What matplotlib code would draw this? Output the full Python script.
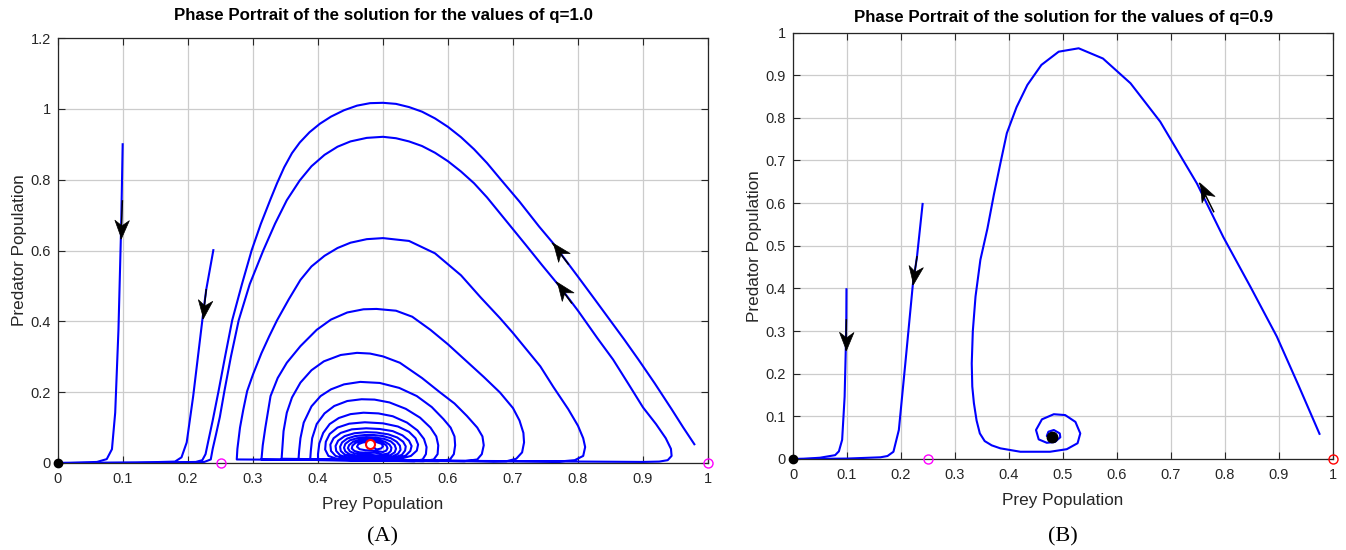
import numpy as np
import matplotlib
matplotlib.use('Agg')
import matplotlib.pyplot as plt
from matplotlib.markers import MarkerStyle
from matplotlib.path import Path
from matplotlib.transforms import Affine2D

plt.rcParams['font.family'] = ['Liberation Sans', 'DejaVu Sans']

# ---- axis ticks / text ----
titles = ['Phase Portrait of the solution for the values of q=1.0',
          'Phase Portrait of the solution for the values of q=0.9']
captions = ['(A)', '(B)']
x_ticks = [0, 0.1, 0.2, 0.3, 0.4, 0.5, 0.6, 0.7, 0.8, 0.9, 1.0]
x_tick_labels = ['0', '0.1', '0.2', '0.3', '0.4', '0.5', '0.6', '0.7', '0.8', '0.9', '1']
left_y_ticks = [0, 0.2, 0.4, 0.6, 0.8, 1.0, 1.2]
left_y_tick_labels = ['0', '0.2', '0.4', '0.6', '0.8', '1', '1.2']
right_y_ticks = [0, 0.1, 0.2, 0.3, 0.4, 0.5, 0.6, 0.7, 0.8, 0.9, 1.0]
right_y_tick_labels = ['0', '0.1', '0.2', '0.3', '0.4', '0.5', '0.6', '0.7', '0.8', '0.9', '1']

# ---- panel A (q=1.0), trajectories ----
a_traj1_x = [0.0995, 0.098, 0.097, 0.093, 0.088, 0.083, 0.075, 0.06, 0.02, 0.0]
a_traj1_y = [0.90, 0.75, 0.657, 0.376, 0.142, 0.039, 0.011, 0.003, 0.0005, 0.0]
a_traj2_x = [0.239, 0.228, 0.224, 0.208, 0.198, 0.19, 0.18, 0.12, 0.0]
a_traj2_y = [0.601, 0.489, 0.433, 0.189, 0.058, 0.016, 0.004, 0.001, 0.0]
# outermost arch, starting low on the right
a_traj3_x = [0.979, 0.962, 0.944, 0.918, 0.893, 0.871, 0.849, 0.825, 0.80, 0.78, 0.762,
             0.74, 0.71, 0.68, 0.66, 0.64, 0.62, 0.60, 0.58, 0.56, 0.54, 0.52, 0.50,
             0.48, 0.46, 0.44, 0.42, 0.403, 0.387, 0.372, 0.36, 0.348, 0.337, 0.327,
             0.312, 0.298, 0.283, 0.268, 0.257, 0.247, 0.238, 0.231, 0.227, 0.222,
             0.212, 0.15, 0.05, 0.0]
a_traj3_y = [0.053, 0.10, 0.152, 0.225, 0.292, 0.349, 0.404, 0.464, 0.526, 0.575, 0.62,
             0.668, 0.738, 0.803, 0.847, 0.886, 0.92, 0.949, 0.973, 0.992, 1.005, 1.014, 1.017,
             1.016, 1.009, 0.996, 0.978, 0.958, 0.934, 0.905, 0.875, 0.835, 0.79, 0.745,
             0.675, 0.601, 0.505, 0.403, 0.30, 0.203, 0.12, 0.06, 0.025, 0.008,
             0.003, 0.001, 0.0, 0.0]

# spiral leaving the interior equilibrium, innermost loops first
a_spiral_inner_x = [0.482,
                    0.49, 0.497, 0.5, 0.498, 0.49, 0.479, 0.469, 0.462, 0.46, 0.464, 0.473, 0.485,
                    0.50, 0.505, 0.507, 0.505, 0.499, 0.489, 0.478, 0.467, 0.458, 0.453, 0.452,
                    0.456, 0.464, 0.475, 0.488,
                    0.50, 0.508, 0.512, 0.513, 0.51, 0.503, 0.492, 0.478, 0.465, 0.454, 0.448,
                    0.446, 0.449, 0.456, 0.467, 0.482,
                    0.50, 0.511, 0.518, 0.52, 0.518, 0.512, 0.502, 0.488, 0.474, 0.46, 0.449,
                    0.442, 0.44, 0.442, 0.448, 0.458, 0.472,
                    0.50, 0.514, 0.523, 0.527, 0.526, 0.521, 0.512, 0.5, 0.486, 0.472, 0.457,
                    0.445, 0.437, 0.434, 0.435, 0.441, 0.452, 0.468,
                    0.50, 0.517, 0.529, 0.534, 0.535, 0.531, 0.522, 0.508, 0.49, 0.474, 0.456,
                    0.441, 0.431, 0.427, 0.428, 0.434, 0.446, 0.465,
                    0.50, 0.52, 0.535, 0.542, 0.544, 0.54, 0.53, 0.515, 0.495, 0.474, 0.452,
                    0.435, 0.424, 0.419, 0.42, 0.427, 0.44, 0.46,
                    0.50, 0.525, 0.543, 0.552, 0.554, 0.55, 0.54, 0.523, 0.5, 0.472, 0.448,
                    0.43, 0.418, 0.412, 0.411, 0.416, 0.43, 0.455]
a_spiral_inner_y = [0.05,
                    0.038, 0.041, 0.047, 0.054, 0.059, 0.06, 0.058, 0.053, 0.046, 0.039, 0.036, 0.035,
                    0.031, 0.035, 0.042, 0.05, 0.057, 0.062, 0.064, 0.062, 0.057, 0.049, 0.041,
                    0.034, 0.03, 0.029, 0.029,
                    0.024, 0.027, 0.034, 0.043, 0.052, 0.06, 0.066, 0.068, 0.066, 0.06, 0.051,
                    0.042, 0.033, 0.027, 0.024, 0.023,
                    0.019, 0.022, 0.03, 0.04, 0.051, 0.061, 0.068, 0.072, 0.073, 0.07, 0.064,
                    0.054, 0.043, 0.033, 0.025, 0.02, 0.019,
                    0.015, 0.018, 0.026, 0.037, 0.049, 0.06, 0.07, 0.076, 0.079, 0.079, 0.076,
                    0.069, 0.058, 0.046, 0.034, 0.024, 0.018, 0.015,
                    0.012, 0.015, 0.023, 0.035, 0.047, 0.06, 0.072, 0.081, 0.086, 0.087, 0.084,
                    0.076, 0.063, 0.048, 0.034, 0.022, 0.015, 0.012,
                    0.01, 0.013, 0.021, 0.034, 0.048, 0.063, 0.078, 0.09, 0.096, 0.098, 0.095,
                    0.085, 0.07, 0.052, 0.034, 0.02, 0.013, 0.01,
                    0.008, 0.011, 0.02, 0.035, 0.052, 0.07, 0.088, 0.103, 0.112, 0.115, 0.111,
                    0.1, 0.082, 0.06, 0.038, 0.02, 0.011, 0.008]
a_spiral_outer_x = [0.548, 0.561, 0.566, 0.567, 0.563, 0.553, 0.537, 0.515, 0.493, 0.47,
                    0.45, 0.432, 0.418, 0.408, 0.402, 0.40, 0.40,
                    0.562, 0.578, 0.584, 0.585, 0.582, 0.573, 0.557, 0.535, 0.51, 0.487, 0.467,
                    0.445, 0.425, 0.41, 0.398, 0.391, 0.389, 0.388,
                    0.585, 0.603, 0.609, 0.611, 0.61, 0.604, 0.593, 0.575, 0.552, 0.525, 0.495,
                    0.465, 0.44, 0.42, 0.404, 0.39, 0.378, 0.373, 0.371, 0.37,
                    0.625, 0.645, 0.652, 0.655, 0.653, 0.645, 0.629, 0.61, 0.588, 0.56, 0.526,
                    0.5, 0.48, 0.46, 0.435, 0.409, 0.39, 0.373, 0.36, 0.352, 0.347, 0.345, 0.344,
                    0.67, 0.69, 0.705, 0.714, 0.717, 0.716, 0.71, 0.70, 0.68, 0.655, 0.63, 0.60,
                    0.573, 0.545, 0.52, 0.49, 0.47, 0.445, 0.42, 0.398, 0.373, 0.352, 0.338,
                    0.327, 0.319, 0.315, 0.313,
                    0.77, 0.795, 0.808, 0.811, 0.808, 0.80, 0.785, 0.762, 0.742, 0.72, 0.70,
                    0.68, 0.65, 0.62, 0.58, 0.54, 0.50, 0.475, 0.45, 0.43, 0.41, 0.39, 0.373,
                    0.355, 0.337, 0.325, 0.313, 0.30, 0.291, 0.285, 0.28, 0.276, 0.275,
                    0.90, 0.925, 0.938, 0.944, 0.943, 0.935, 0.92, 0.90, 0.878, 0.854, 0.83,
                    0.80, 0.772, 0.745, 0.72, 0.70, 0.68, 0.66, 0.64, 0.62, 0.60, 0.58, 0.56,
                    0.54, 0.52, 0.50, 0.475, 0.45, 0.43, 0.41, 0.39, 0.372, 0.352, 0.334,
                    0.316, 0.295, 0.278, 0.266, 0.256, 0.249, 0.243, 0.238, 0.235,
                    0.225, 0.15, 0.05, 0.0]
a_spiral_outer_y = [0.005, 0.01, 0.025, 0.045, 0.068, 0.092, 0.114, 0.132, 0.14, 0.142,
                    0.138, 0.127, 0.11, 0.085, 0.055, 0.025, 0.008,
                    0.005, 0.01, 0.025, 0.05, 0.075, 0.1, 0.128, 0.153, 0.171, 0.179, 0.18,
                    0.175, 0.161, 0.14, 0.11, 0.07, 0.035, 0.01,
                    0.005, 0.01, 0.025, 0.05, 0.075, 0.1, 0.124, 0.158, 0.189, 0.212, 0.226,
                    0.229, 0.222, 0.208, 0.189, 0.16, 0.114, 0.07, 0.035, 0.01,
                    0.005, 0.01, 0.025, 0.05, 0.075, 0.1, 0.133, 0.168, 0.199, 0.24, 0.283,
                    0.301, 0.309, 0.311, 0.305, 0.287, 0.262, 0.227, 0.185, 0.142, 0.09, 0.04, 0.012,
                    0.004, 0.005, 0.012, 0.03, 0.058, 0.085, 0.12, 0.155, 0.199, 0.243, 0.285, 0.335,
                    0.376, 0.413, 0.43, 0.435, 0.434, 0.425, 0.405, 0.376, 0.33, 0.283, 0.24,
                    0.189, 0.1, 0.05, 0.01,
                    0.004, 0.008, 0.02, 0.045, 0.07, 0.105, 0.152, 0.215, 0.273, 0.322, 0.367,
                    0.409, 0.468, 0.53, 0.592, 0.627, 0.635, 0.632, 0.622, 0.607, 0.585, 0.555, 0.517,
                    0.462, 0.403, 0.358, 0.31, 0.25, 0.203, 0.15, 0.1, 0.04, 0.01,
                    0.003, 0.004, 0.008, 0.02, 0.04, 0.07, 0.11, 0.157, 0.222, 0.292, 0.352,
                    0.43, 0.498, 0.558, 0.615, 0.66, 0.705, 0.75, 0.79, 0.823, 0.852, 0.876, 0.895,
                    0.908, 0.917, 0.921, 0.918, 0.908, 0.893, 0.87, 0.838, 0.798, 0.742, 0.676,
                    0.601, 0.505, 0.403, 0.30, 0.203, 0.13, 0.08, 0.04, 0.01,
                    0.003, 0.001, 0.0, 0.0]

# arrows (tail, tip)
a_arrows = [((0.099, 0.74), (0.097, 0.634)),
            ((0.228, 0.489), (0.223, 0.409)),
            ((0.785, 0.562), (0.761, 0.62)),
            ((0.79, 0.452), (0.767, 0.51))]
a_origin = (0.0, 0.0)
a_allee = ([0.25, 1.0], [0.0, 0.0])
a_interior = (0.48, 0.054)

# ---- panel B (q=0.9) ----
b_traj1_x = [0.099, 0.0987, 0.098, 0.0956, 0.091, 0.085, 0.078, 0.05, 0.02, 0.0]
b_traj1_y = [0.398, 0.326, 0.271, 0.146, 0.045, 0.018, 0.009, 0.003, 0.0005, 0.0]
b_traj2_x = [0.24, 0.2296, 0.222, 0.208, 0.196, 0.186, 0.175, 0.162, 0.1, 0.0]
b_traj2_y = [0.598, 0.474, 0.41, 0.224, 0.068, 0.017, 0.007, 0.004, 0.001, 0.0]
b_traj3_x = [0.975, 0.936, 0.896, 0.847, 0.797, 0.748, 0.68, 0.625, 0.574, 0.529, 0.492,
             0.46, 0.434, 0.414, 0.396, 0.384, 0.372, 0.36, 0.347, 0.338, 0.333, 0.331,
             0.332, 0.335, 0.34, 0.346, 0.355, 0.368, 0.384, 0.421, 0.476, 0.507, 0.527,
             0.532, 0.523, 0.504, 0.483, 0.461, 0.45, 0.455, 0.47, 0.485, 0.495, 0.494,
             0.483, 0.473, 0.47, 0.48]
b_traj3_y = [0.059, 0.173, 0.287, 0.404, 0.52, 0.646, 0.791, 0.881, 0.939, 0.963, 0.955,
             0.924, 0.877, 0.825, 0.764, 0.693, 0.62, 0.54, 0.467, 0.381, 0.30, 0.224,
             0.17, 0.131, 0.09, 0.06, 0.042, 0.032, 0.025, 0.017, 0.017, 0.023, 0.037,
             0.06, 0.087, 0.103, 0.105, 0.093, 0.068, 0.046, 0.038, 0.04, 0.051, 0.06,
             0.068, 0.064, 0.054, 0.051]
b_arrows = [((0.0987, 0.326), (0.098, 0.256)),
            ((0.2296, 0.474), (0.222, 0.41)),
            ((0.779, 0.58), (0.753, 0.646))]
b_origin = (0.0, 0.0)
b_allee = (0.25, 0.0)
b_carrying = (1.0, 0.0)
b_interior = (0.48, 0.051)

BLUE = '#0000ff'
GRID = '#cccccc'
DARK = '#262626'


def style_axes(ax, title, yticks, ylabels, title_pad):
    ax.set_xlim(0, 1)
    ax.set_ylim(yticks[0], yticks[-1])
    ax.set_xticks(x_ticks)
    ax.set_xticklabels(x_tick_labels)
    ax.set_yticks(yticks)
    ax.set_yticklabels(ylabels)
    ax.grid(True, color=GRID, lw=0.9)
    ax.set_axisbelow(True)
    ax.tick_params(direction='in', length=5, width=0.8, top=True, right=True,
                   labelsize=10.5, colors=DARK)
    ax.tick_params(axis='x', pad=6.5)
    ax.tick_params(axis='y', pad=5)
    for s in ax.spines.values():
        s.set_linewidth(0.9)
        s.set_color(DARK)
    ax.set_title(title, fontsize=12.2, fontweight='bold', pad=title_pad)
    ax.set_xlabel('Prey Population', fontsize=12.3, color=DARK, labelpad=8)
    ax.set_ylabel('Predator Population', fontsize=12.3, color=DARK, labelpad=3)


def draw_arrow(ax, tail, tip):
    ax.plot([tail[0], tip[0]], [tail[1], tip[1]], color='k', lw=1.1, zorder=4)
    p0 = ax.transData.transform(tail)
    p1 = ax.transData.transform(tip)
    ang = np.arctan2(p1[1] - p0[1], p1[0] - p0[0])
    head = Path([(0, 0), (-1, 0.4), (-0.7, 0), (-1, -0.4), (0, 0)],
                [Path.MOVETO, Path.LINETO, Path.LINETO, Path.LINETO, Path.CLOSEPOLY])
    m = MarkerStyle(head, transform=Affine2D().rotate(ang))
    ax.plot(tip[0], tip[1], marker=m, ms=26, color='k', mec='k', mew=0.5, zorder=5)


fig = plt.figure(figsize=(13.46, 5.5), dpi=100)
ax1 = fig.add_axes([58 / 1346, 87 / 550, 650 / 1346, 425 / 550])
ax2 = fig.add_axes([793 / 1346, 91 / 550, 540 / 1346, 426.5 / 550])

# panel A
style_axes(ax1, titles[0], left_y_ticks, left_y_tick_labels, 12.8)
for xs, ys in [(a_traj1_x, a_traj1_y), (a_traj2_x, a_traj2_y), (a_traj3_x, a_traj3_y),
               (a_spiral_inner_x + a_spiral_outer_x, a_spiral_inner_y + a_spiral_outer_y)]:
    ax1.plot(xs, ys, color=BLUE, lw=1.5, solid_joinstyle='round')
for tail, tip in a_arrows:
    draw_arrow(ax1, tail, tip)
ax1.plot(*a_origin, 'o', color='k', ms=6, clip_on=False, zorder=6)
ax1.plot(*a_allee, 'o', mfc='none', mec='#ff00ff', ms=6.5, mew=1, clip_on=False, zorder=6)
ax1.plot(*a_interior, 'o', mfc='white', mec='#ff0000', ms=6.5, mew=1.5, zorder=6)

# panel B
style_axes(ax2, titles[1], right_y_ticks, right_y_tick_labels, 7.8)
for xs, ys in [(b_traj1_x, b_traj1_y), (b_traj2_x, b_traj2_y), (b_traj3_x, b_traj3_y)]:
    ax2.plot(xs, ys, color=BLUE, lw=1.5, solid_joinstyle='round')
for tail, tip in b_arrows:
    draw_arrow(ax2, tail, tip)
ax2.plot(*b_origin, 'o', color='k', ms=6, clip_on=False, zorder=6)
ax2.plot(*b_allee, 'o', mfc='none', mec='#ff00ff', ms=6.5, mew=1, clip_on=False, zorder=6)
ax2.plot(*b_carrying, 'o', mfc='none', mec='#ff0000', ms=6.5, mew=1, clip_on=False, zorder=6)
ax2.plot(*b_interior, 'o', color='k', ms=7.5, zorder=6)

fig.text(383 / 1346, 1 - 537 / 550, captions[0], ha='center', va='center',
         fontsize=16, family='Liberation Serif')
fig.text(1063 / 1346, 1 - 537 / 550, captions[1], ha='center', va='center',
         fontsize=16, family='Liberation Serif')

fig.savefig('out.png', dpi=100)
